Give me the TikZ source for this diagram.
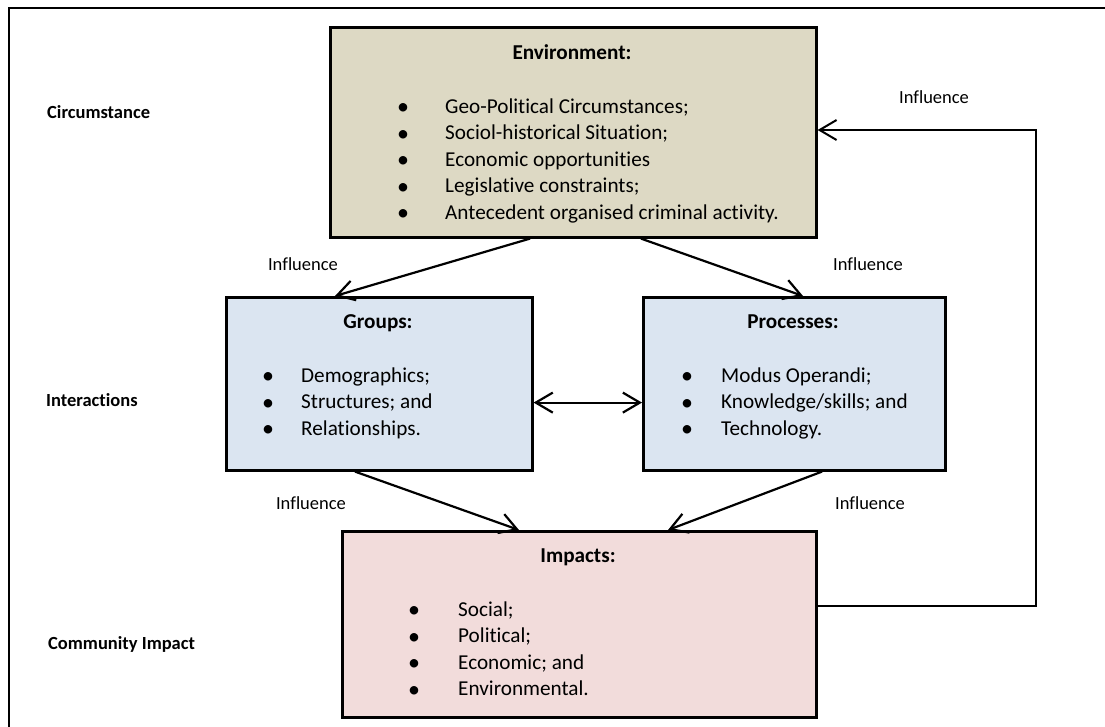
\documentclass[tikz,border=0pt]{standalone}
\usepackage{fontspec}
\setmainfont{Carlito}[Ligatures={NoCommon}]
\usetikzlibrary{arrows.meta,calc}
\definecolor{envfill}{HTML}{DDD9C4}
\definecolor{blufill}{HTML}{DBE5F1}
\definecolor{impfill}{HTML}{F2DCDB}
\begin{document}
\begin{tikzpicture}[x=1pt,y=-1pt,
  box/.style={draw=black, line width=2.6pt, inner sep=0pt, anchor=north west},
  title/.style={font=\fontsize{21.2}{25}\selectfont\bfseries, inner sep=0pt, anchor=base},
  item/.style={font=\fontsize{21.2}{25}\selectfont, inner sep=0pt, anchor=base west},
  bul/.style={font=\fontsize{24}{24}\selectfont, inner sep=0pt, anchor=base},
  side/.style={font=\fontsize{18.5}{22}\selectfont\bfseries, inner sep=0pt, anchor=base west},
  infl/.style={font=\fontsize{18.5}{22}\selectfont, inner sep=0pt, anchor=base},
  conn/.style={line width=2.2pt, -{Straight Barb[length=17pt,width=20pt]}},
  fbline/.style={line width=2pt}
]
\useasboundingbox (0,0) rectangle (1105,726);
\clip (0,0) rectangle (1105,726);
\draw[line width=2.6pt] (9,8) rectangle (1130,760);

% boxes
\node[box, fill=envfill, minimum width=486pt, minimum height=210pt] (env) at (329,26) {};
\node[box, fill=blufill, minimum width=306pt, minimum height=173pt] (grp) at (225,296) {};
\node[box, fill=blufill, minimum width=302pt, minimum height=173pt] (pro) at (642,296) {};
\node[box, fill=impfill, minimum width=474pt, minimum height=186pt] (imp) at (341,530) {};

% environment text
\node[title] (envt) at (572,59) {Environment:};
\foreach \i/\t [count=\k] in {113/{Geo-Political Circumstances;}, 139.5/{Sociol-historical Situation;}, 166/{Economic opportunities}, 192.5/{Legislative constraints;}, 219/{Antecedent organised criminal activity.}}{
  \node[bul] (envb\k) at (403,\i+1.5) {•};
  \node[item] (envi\k) at (445,\i) {\t};
}

% groups text
\node[title] (grpt) at (378,328) {Groups:};
\foreach \i/\t [count=\k] in {382/{Demographics;}, 408.5/{Structures; and}, 435/{Relationships.}}{
  \node[bul] (grpb\k) at (268,\i+1.5) {•};
  \node[item] (grpi\k) at (301,\i) {\t};
}

% processes text
\node[title] (prot) at (793,328) {Processes:};
\foreach \i/\t [count=\k] in {382/{Modus Operandi;}, 408.5/{Knowledge/skills; and}, 435/{Technology.}}{
  \node[bul] (prob\k) at (687,\i+1.5) {•};
  \node[item] (proi\k) at (721,\i) {\t};
}

% impacts text
\node[title] (impt) at (578,562) {Impacts:};
\foreach \i/\t [count=\k] in {616/{Social;}, 642.5/{Political;}, 669/{Economic; and}, 695.5/{Environmental.}}{
  \node[bul] (impb\k) at (414,\i+1.5) {•};
  \node[item] (impi\k) at (458,\i) {\t};
}

% side labels
\node[side] (lcirc) at (47,118) {Circumstance};
\node[side] (linter) at (46,406) {Interactions};
\node[side] (lcomm) at (48,649) {Community Impact};

% influence labels
\node[infl] (inf1) at (303,270) {Influence};
\node[infl] (inf2) at (868,270) {Influence};
\node[infl] (inf3) at (311,509) {Influence};
\node[infl] (inf4) at (870,509) {Influence};
\node[infl] (inf5) at (934,103) {Influence};

% connectors
\draw[conn] ($(env.south west)+(201,0)$) -- ($(grp.north west)+(110,0)$);
\draw[conn] ($(env.south west)+(312,0)$) -- ($(pro.north west)+(161,0)$);
\draw[conn] ($(grp.south west)+(130,0)$) -- ($(imp.north west)+(178,0)$);
\draw[conn] ($(pro.south west)+(180,0)$) -- ($(imp.north west)+(327,0)$);
\draw[line width=2.2pt, {Straight Barb[length=17pt,width=20pt]}-{Straight Barb[length=17pt,width=20pt]}] ($(grp.south east)+(0,-69)$) -- ($(pro.south west)+(0,-69)$);
\coordinate (fbA) at (1036,606);
\coordinate (fbB) at (1036,130);
\draw[fbline, -{Straight Barb[length=17pt,width=20pt]}] ($(imp.north east)+(0,76)$) -- (fbA) -- (fbB) -- ($(env.north east)+(0,104)$);
\end{tikzpicture}
\end{document}
